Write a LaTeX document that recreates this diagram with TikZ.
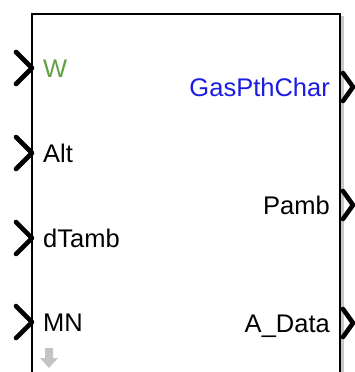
\documentclass[tikz,border=0pt]{standalone}
\usepackage{fontspec}
\setmainfont{Liberation Sans}
\definecolor{portgreen}{RGB}{98,160,66}
\definecolor{portblue}{RGB}{28,28,226}
\definecolor{shadowgray}{RGB}{200,200,200}
\definecolor{arrowgray}{RGB}{196,196,196}
\begin{document}
\begin{tikzpicture}[x=1pt,y=-1pt,
  lbl/.style={font=\fontsize{25.5}{25.5}\selectfont, inner sep=0pt},
  inlbl/.style={lbl, anchor=base west},
  outlbl/.style={lbl, anchor=base east},
  chev/.style={line width=4.6pt, line cap=round, line join=round, black},
  blockline/.style={line width=2pt, black}]
\useasboundingbox (0,0) rectangle (355,372);
\clip (0,0) rectangle (355,372);
% block body with drop shadow
\fill[shadowgray] (34,16) rectangle (344,380);
\fill[white] (32,14) rectangle (340,378);
\draw[blockline] (32,378) -- (32,14) -- (340,14) -- (340,378);
% port positions on the block edges
\coordinate (inW) at (32,68);
\coordinate (inAlt) at (32,153);
\coordinate (inDT) at (32,238);
\coordinate (inMN) at (32,322);
\coordinate (outGP) at (341,87);
\coordinate (outPamb) at (341,205);
\coordinate (outAD) at (341,323);
% input chevrons
\foreach \p in {inW,inAlt,inDT,inMN}
  \draw[chev] ([shift={(-16,-16)}]\p) -- (\p) -- ([shift={(-16,16)}]\p);
% output chevrons
\foreach \p in {outGP,outPamb,outAD}
  \draw[chev] ([shift={(2,-14)}]\p) -- ([shift={(12,0)}]\p) -- ([shift={(2,14)}]\p);
% port labels
\node[inlbl, text=portgreen] (lW) at (43,77) {W};
\node[inlbl] (lAlt) at (43,162) {Alt};
\node[inlbl] (lDT) at (43,247) {dTamb};
\node[inlbl] (lMN) at (43,331) {MN};
\node[outlbl, text=portblue] (lGP) at (330,96) {GasPthChar};
\node[outlbl] (lPamb) at (330,214) {Pamb};
\node[outlbl] (lAD) at (330,332) {A\_Data};
% small downward arrow at the block's lower left
\fill[arrowgray] (45,348) -- (53,348) -- (53,358) -- (58,358) -- (49,368) -- (40,358) -- (45,358) -- cycle;
\end{tikzpicture}
\end{document}
